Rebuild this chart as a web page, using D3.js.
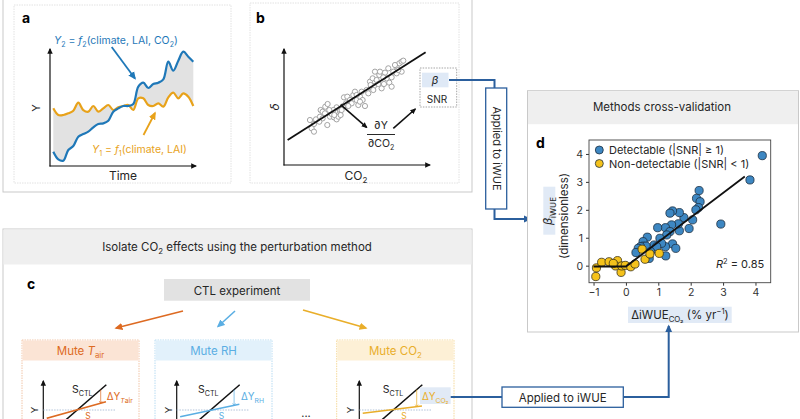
<!DOCTYPE html>
<html><head><meta charset="utf-8">
<script src="https://cdn.jsdelivr.net/npm/d3@7"></script>
<style>body{margin:0;background:#fff}svg{display:block;font-family:Inter,"Noto Sans",sans-serif}</style>
</head><body><svg id="c" width="800" height="419"></svg>
<script>
// ---------- DATA ----------
// panel a: schematic time series (time index 0..28)
const timeIndex = [0,1,2,3,4,5,6,7,8,9,10,11,12,13,14,15,16,17,18,19,20,21,22,23,24,25,26,27,28];
const yWithCO2 = [0.45,0.22,0.18,0.50,0.62,0.90,0.98,1.05,1.18,1.28,1.30,1.38,1.65,1.75,1.82,1.82,1.88,2.40,2.52,2.36,2.48,2.52,2.62,3.15,2.88,3.18,3.45,3.30,3.15];
const yNoCO2   = [1.75,1.55,1.55,1.60,1.68,1.92,1.70,1.65,1.82,1.65,1.75,1.85,1.70,1.78,1.82,1.85,1.70,2.05,2.05,1.85,1.82,1.90,1.80,2.08,2.22,2.05,2.20,2.10,1.82];
// panel b: schematic scatter (CO2 vs detrended Y)
const bCO2 = [8.0,9.2,8.5,9.2,9.8,11.0,11.2,11.8,12.6,13.3,13.2,14.0,14.5,15.2,15.5,16.0,16.5,17.0,17.2,18.0,18.8,18.2,19.2,20.0,21.0,21.5,22.0,22.5,23.0,23.8,24.5,25.0,25.5,26.0,26.5,26.8,27.2,27.5,28.0,28.8,29.5,30.2,31.0,31.8,32.5,29.0,30.5,31.5,33.0,34.0,34.8,35.5,36.0,34.0,32.5,35.5,27.0,23.5,20.5,19.5,17.5,16.0,15.0,11.8,10.8,12.5,13.8,15.3,22.0,28.5,30.0,33.5,34.5,23.0,26.2];
const bDelta = [14.0,12.8,11.5,10.5,14.2,15.0,17.0,16.5,18.0,18.8,12.5,15.0,15.8,14.8,16.5,14.2,15.0,17.0,15.5,18.2,19.0,20.8,21.0,20.0,21.5,22.5,20.0,18.5,21.0,20.0,18.2,23.0,22.0,25.5,23.8,26.5,24.2,28.5,26.0,27.5,23.5,24.8,26.5,25.2,24.0,28.5,28.2,29.5,28.5,30.0,31.0,31.5,31.8,28.0,26.8,28.5,23.0,22.5,19.0,18.2,17.0,17.8,17.0,14.5,13.5,16.0,17.0,15.5,21.5,24.8,26.8,30.5,29.0,19.5,24.5];
const bFitCO2 = [1.3, 42.7];
const bFitDelta = [8.0, 34.3];
// panel c: schematic sensitivity lines (x units, y units relative to reference level)
const ctlLineX = [3.0, 9.0];
const ctlLineY = [-1.6, 3.6];
const muteTairY = [-1.19, 1.19];
const muteRHY = [-0.96, 0.81];
const muteCO2Y = [-0.47, 0.57];
const muteLineX = [0.49, 8.95];
// panel d: beta_iWUE vs dIWUE_CO2
const detX = [4.21,3.83,2.93,2.26,2.18,2.29,2.24,2.16,2.06,1.95,1.79,1.65,1.44,1.36,1.65,1.62,1.41,1.22,0.98,1.36,1.26,1.44,1.54,1.22,1.23,1.05,1.10,0.87,0.95,0.66,0.53,0.53,0.62,0.45,0.38,0.76,0.31,0.72];
const detY = [3.94,3.07,1.49,2.69,2.41,2.29,2.08,2.00,1.64,1.33,1.72,1.90,1.96,1.88,1.25,1.50,1.46,1.36,1.36,1.22,1.10,0.78,0.62,0.68,0.35,0.98,0.80,0.74,0.68,1.02,0.86,0.70,0.70,0.68,0.62,0.50,0.47,0.26];
const nonX = [-0.93,-0.91,-0.75,-0.52,-0.26,-0.32,-0.15,-0.13,-0.02,0.15,0.28,0.50,0.59,0.74,1.03,-0.39];
const nonY = [-0.39,-0.08,0.12,0.14,0.18,-0.01,-0.24,-0.01,0.01,-0.04,0.06,0.59,0.23,0.42,0.44,0.08];
const fitX = [-1.0, 0.0, 3.67];
const fitY = [-0.03, -0.03, 3.19];
const dXTicks = [-1,0,1,2,3,4];
const dYTicks = [0,1,2,3,4];
const legendLabels = ["Detectable (|SNR| \u2265 1)", "Non-detectable (|SNR| < 1)"];

// ---------- HELPERS ----------
const svg = d3.select("#c");
const defs = svg.append("defs");
function marker(id, color, size){
  defs.append("marker").attr("id",id).attr("viewBox","0 0 10 10").attr("refX",8).attr("refY",5)
    .attr("markerWidth",size).attr("markerHeight",size).attr("orient","auto-start-reverse")
    .attr("markerUnits","userSpaceOnUse")
    .append("path").attr("d","M0,0.5L10,5L0,9.5z").attr("fill",color);
}
const C = {blue:"#1f78b8", orange:"#e8a21a", conn:"#2b5f9d", tair:"#dd6a22", rh:"#5aaee3", co2:"#e9ae2a", text:"#262626"};
marker("mk",  "#111", 6);
marker("mkBlue", C.blue, 8);
marker("mkOr", C.orange, 8);
marker("mkConn", C.conn, 8);
marker("mkTair", C.tair, 8);
marker("mkRH", C.rh, 8);
marker("mkCO2", C.co2, 8);

function rich(g, x, y, parts, o={}){
  const fs = o.size || 11;
  const t = g.append("text").attr("x",x).attr("y",y).attr("font-size",fs)
    .attr("fill",o.fill||C.text).attr("text-anchor",o.anchor||"start");
  if(o.transform) t.attr("transform",o.transform);
  if(o.weight) t.attr("font-weight",o.weight);
  let cur = 0;
  parts.forEach(p=>{
    if(typeof p==="string") p={t:p};
    const target = p.sub ? fs*0.3 : p.sup ? -fs*0.4 : 0;
    const ts = t.append("tspan").text(p.t).attr("dy", target-cur);
    cur = target;
    if(p.sub||p.sup) ts.attr("font-size", fs*0.68);
    if(p.i) ts.attr("font-style","italic");
  });
  return t;
}
function line(g, pts, color, w, mk){
  const p = g.append("path").attr("d", d3.line()(pts)).attr("fill","none").attr("stroke",color).attr("stroke-width",w);
  if(mk) p.attr("marker-end","url(#"+mk+")");
  return p;
}

// ---------- FRAMES ----------
svg.append("rect").attr("x",3).attr("y",-2).attr("width",469).attr("height",194).attr("fill","none").attr("stroke","#c9c9c9");
svg.append("rect").attr("x",14).attr("y",5).attr("width",217).attr("height",178).attr("fill","none").attr("stroke","#e2e2e2").attr("stroke-dasharray","1.5,1");
svg.append("rect").attr("x",250).attr("y",3).attr("width",209).attr("height",180).attr("fill","none").attr("stroke","#e2e2e2").attr("stroke-dasharray","1.5,1");

// ---------- PANEL A ----------
const gA = svg.append("g");
gA.append("text").attr("x",22).attr("y",23).attr("font-size",14).attr("font-weight",700).text("a");
const ax = d3.scaleLinear().domain([0,28]).range([53.3,193.3]);
const ay = d3.scaleLinear().domain([0,3.5]).range([166.7,50]);
gA.append("path").datum(timeIndex)
  .attr("d", d3.area().x(i=>ax(i)).y0(i=>ay(yNoCO2[i])).y1(i=>ay(yWithCO2[i])).curve(d3.curveCatmullRom))
  .attr("fill","#e2e2e2");
gA.append("path").datum(timeIndex).attr("d", d3.line().x(i=>ax(i)).y(i=>ay(yNoCO2[i])).curve(d3.curveCatmullRom))
  .attr("fill","none").attr("stroke",C.orange).attr("stroke-width",2.2);
gA.append("path").datum(timeIndex).attr("d", d3.line().x(i=>ax(i)).y(i=>ay(yWithCO2[i])).curve(d3.curveCatmullRom))
  .attr("fill","none").attr("stroke",C.blue).attr("stroke-width",2.2);
line(gA, [[50,166.5],[50,49]], "#111", 1.2, "mk");
line(gA, [[49.5,166],[196,166]], "#111", 1.2, "mk");
gA.append("text").attr("x",123).attr("y",180).attr("text-anchor","middle").attr("font-size",12).attr("fill",C.text).text("Time");
gA.append("text").attr("transform","translate(40,108) rotate(-90)").attr("text-anchor","middle").attr("font-size",11).attr("fill",C.text).text("Y");
rich(gA, 54, 44, [{t:"Y",i:true},{t:"2",sub:true}," = ",{t:"f",i:true},{t:"2",sub:true},"(climate, LAI, CO",{t:"2",sub:true},")"], {fill:C.blue, size:10.5});
rich(gA, 92, 153, [{t:"Y",i:true},{t:"1",sub:true}," = ",{t:"f",i:true},{t:"1",sub:true},"(climate, LAI)"], {fill:C.orange, size:10.5});
line(gA, [[111.7,47],[135,78.5]], C.blue, 1.8, "mkBlue");
line(gA, [[143.5,135],[155,113]], C.orange, 1.8, "mkOr");

// ---------- PANEL B ----------
const gB = svg.append("g");
gB.append("text").attr("x",256).attr("y",23).attr("font-size",14).attr("font-weight",700).text("b");
const bx = d3.scaleLinear().domain([0,43.5]).range([283.3,428.3]);
const by = d3.scaleLinear().domain([0,35]).range([166.7,50]);
line(gB, [[284,165.5],[284,49]], "#111", 1.2, "mk");
line(gB, [[283.5,165],[430,165]], "#111", 1.2, "mk");
gB.selectAll("circle").data(bCO2).join("circle")
  .attr("cx",(d)=>bx(d)).attr("cy",(d,i)=>by(bDelta[i])).attr("r",2.6)
  .attr("fill","#fff").attr("stroke","#9a9a9a").attr("stroke-width",0.9);
line(gB, bFitCO2.map((d,i)=>[bx(d),by(bFitDelta[i])]), "#111", 1.8);
line(gB, [[bx(17.2),by(18.6)],[bx(25),by(11.8)]], "#111", 1.6, "mk");
line(gB, [[bx(33),by(11.5)],[bx(39.6),by(17.3)]], "#111", 1.6, "mk");
gB.append("text").attr("x",356).attr("y",180).attr("text-anchor","middle").attr("font-size",12).attr("fill",C.text)
  .call(t=>{t.append("tspan").text("CO");t.append("tspan").text("2").attr("font-size",8).attr("dy",3);});
gB.append("text").attr("transform","translate(279,107) rotate(-90)").attr("text-anchor","middle").attr("font-size",12).attr("font-style","italic").attr("fill",C.text).text("\u03B4");
rich(gB, 381, 129, [{t:"\u2202Y",i:false}], {anchor:"middle", size:10.5});
line(gB, [[367,134.5],[395,134.5]], "#111", 0.9);
rich(gB, 381, 147, ["\u2202CO",{t:"2",sub:true}], {anchor:"middle", size:10.5});
gB.append("rect").attr("x",420).attr("y",68).attr("width",36.7).attr("height",39).attr("fill","#fff").attr("stroke","#a5a5a5").attr("stroke-dasharray","1.5,1.2");
gB.append("rect").attr("x",422).attr("y",72.7).attr("width",26.5).attr("height",14.6).attr("fill","#dfe9f6");
gB.append("text").attr("x",435).attr("y",84).attr("text-anchor","middle").attr("font-size",11).attr("font-style","italic").attr("fill",C.text).text("\u03B2");
gB.append("text").attr("x",437).attr("y",103).attr("text-anchor","middle").attr("font-size",10).attr("fill",C.text).text("SNR");

// connectors b -> d
line(svg, [[449,80],[494.5,80],[494.5,88]], C.conn, 2);
svg.append("rect").attr("x",485.7).attr("y",88).attr("width",21).attr("height",121).attr("fill","#fff").attr("stroke",C.conn).attr("stroke-width",1.3);
svg.append("text").attr("transform","translate(492.5,148.5) rotate(90)").attr("text-anchor","middle").attr("font-size",11).attr("fill",C.text).text("Applied to iWUE");
line(svg, [[494.5,209],[494.5,219],[530,219]], C.conn, 2, "mkConn");

// ---------- PANEL D ----------
const gD = svg.append("g");
gD.append("rect").attr("x",527.5).attr("y",90.7).attr("width",271).attr("height",241.3).attr("fill","#fff").attr("stroke","#c9c9c9");
gD.append("rect").attr("x",528).attr("y",91.2).attr("width",270).attr("height",33).attr("fill","#efefef");
gD.append("text").attr("x",662).attr("y",111).attr("text-anchor","middle").attr("font-size",11.5).attr("fill",C.text).text("Methods cross-validation");
gD.append("text").attr("x",536).attr("y",148).attr("font-size",14).attr("font-weight",700).text("d");
const dx = d3.scaleLinear().domain([-1.14,4.47]).range([589,770.7]);
const dy = d3.scaleLinear().domain([-0.61,4.5]).range([282.7,140]);
const styleAxis = g=>{g.select(".domain").remove(); g.selectAll("text").attr("font-size",10.5).attr("fill","#333").attr("font-family","Inter,'Noto Sans',sans-serif"); g.selectAll("line").attr("stroke","#333");};
gD.append("g").attr("transform","translate(0,282.7)")
  .call(d3.axisBottom(dx).tickValues(dXTicks).tickFormat(d3.format("d")).tickSize(3).tickPadding(3))
  .call(styleAxis);
gD.append("g").attr("transform","translate(589,0)")
  .call(d3.axisLeft(dy).tickValues(dYTicks).tickFormat(d3.format("d")).tickSize(3).tickPadding(3))
  .call(styleAxis);
gD.append("rect").attr("x",589).attr("y",140).attr("width",181.7).attr("height",142.7).attr("fill","none").attr("stroke","#444").attr("stroke-width",0.9);
gD.append("g").selectAll("circle").data(detX).join("circle")
  .attr("cx",d=>dx(d)).attr("cy",(d,i)=>dy(detY[i])).attr("r",4.1)
  .attr("fill","#3d87c2").attr("stroke","#1d2e40").attr("stroke-width",0.8);
gD.append("g").selectAll("circle").data(nonX).join("circle")
  .attr("cx",d=>dx(d)).attr("cy",(d,i)=>dy(nonY[i])).attr("r",4.1)
  .attr("fill","#f5c21b").attr("stroke","#3b3418").attr("stroke-width",0.8);
line(gD, fitX.map((d,i)=>[dx(d),dy(fitY[i])]), "#111", 1.8);
// legend
[["#3d87c2",150],["#f5c21b",163.5]].forEach((c,i)=>{
  gD.append("circle").attr("cx",599.3).attr("cy",c[1]).attr("r",4).attr("fill",c[0]).attr("stroke","#1d2e40").attr("stroke-width",0.8);
  gD.append("text").attr("x",609).attr("y",c[1]+4).attr("font-size",11).attr("fill",C.text).text(legendLabels[i]);
});
rich(gD, 716, 268, [{t:"R",i:true},{t:"2",sup:true},{t:" = 0.85"}], {size:11});
// axis labels
gD.append("rect").attr("x",543.3).attr("y",186.7).attr("width",12).attr("height",48).attr("fill","#e1eaf6");
rich(gD, 0, 0, [{t:"\u03B2",i:true},{t:"iWUE",sub:true}], {size:12, anchor:"middle", transform:"translate(552,211) rotate(-90)"});
gD.append("text").attr("transform","translate(567.5,216) rotate(-90)").attr("text-anchor","middle").attr("font-size",11.5).attr("fill",C.text).text("(dimensionless)");
gD.append("rect").attr("x",628).attr("y",306.7).attr("width",103.7).attr("height",16.3).attr("fill","#e1eaf6");
rich(gD, 680, 318.5, ["\u0394iWUE",{t:"CO\u2082",sub:true}," (% yr",{t:"\u22121",sup:true},")"], {size:11.5, anchor:"middle"});

// ---------- PANEL C ----------
const gC = svg.append("g");
gC.append("rect").attr("x",3).attr("y",229).attr("width",469).attr("height",200).attr("fill","#fff").attr("stroke","#c9c9c9");
gC.append("rect").attr("x",3.5).attr("y",229.5).attr("width",468).attr("height",35).attr("fill","#efefef");
rich(gC, 237, 251, ["Isolate CO",{t:"2",sub:true}," effects using the perturbation method"], {size:11.5, anchor:"middle"});
gC.append("text").attr("x",27).attr("y",289).attr("font-size",14).attr("font-weight",700).text("c");
gC.append("rect").attr("x",164).attr("y",279).attr("width",146).attr("height",21.7).attr("fill","#e2e2e2");
gC.append("text").attr("x",237).attr("y",294.5).attr("text-anchor","middle").attr("font-size",11.5).attr("fill",C.text).text("CTL experiment");
line(gC, [[183,311],[116,328]], C.tair, 1.6, "mkTair");
line(gC, [[235,311],[218,326.5]], C.rh, 1.6, "mkRH");
line(gC, [[303,310],[366,328]], C.co2, 1.6, "mkCO2");

const subs = [
  {x:22, w:117, head:"#fbe4d5", border:"#f1c6a9", col:C.tair, title:[ "Mute ",{t:"T",i:true},{t:"air",sub:true}], axisX:43.3, my:muteTairY, sLab:72, dLab:[{t:"\u0394Y",i:false},{t:"T",sub:true,i:true},{t:"air",sub:true}], dX:106.7},
  {x:155, w:117, head:"#e2f1fb", border:"#b9dcf3", col:C.rh, title:["Mute RH"], axisX:176.7, my:muteRHY, sLab:198, dLab:["\u0394Y",{t:"RH",sub:true}], dX:241},
  {x:336.7, w:117.3, head:"#fdf0d6", border:"#f5d99b", col:C.co2, title:["Mute CO",{t:"2",sub:true}], axisX:359.3, my:muteCO2Y, sLab:382.7, dLab:["\u0394Y",{t:"CO\u2082",sub:true}], dX:422, box:true}
];
subs.forEach(s=>{
  const g = gC.append("g");
  g.append("rect").attr("x",s.x).attr("y",340).attr("width",s.w).attr("height",90).attr("fill","#fff").attr("stroke",s.border).attr("stroke-dasharray","1.5,1");
  g.append("rect").attr("x",s.x+0.5).attr("y",340.5).attr("width",s.w-1).attr("height",20).attr("fill",s.head);
  rich(g, s.x+s.w/2, 355, s.title, {size:11.5, anchor:"middle", fill:s.col});
  const sx = d3.scaleLinear().domain([0,10]).range([s.axisX, s.axisX+70]);
  const sy = d3.scaleLinear().domain([0,5]).range([410,375]);
  line(g, [[s.axisX,425],[s.axisX,381]], "#111", 1.2, "mk");
  g.append("text").attr("transform",`translate(${s.axisX-5},410) rotate(-90)`).attr("text-anchor","middle").attr("font-size",9.5).attr("fill",C.text).text("Y");
  line(g, [[s.axisX,410],[s.axisX+72,410]], "#9db3cf", 0.8).attr("stroke-dasharray","1.5,1.2");
  line(g, ctlLineX.map((d,i)=>[sx(d),sy(ctlLineY[i])]), "#111", 1.5);
  line(g, muteLineX.map((d,i)=>[sx(d),sy(s.my[i])]), s.col, 1.6);
  const ux = 8.2;
  const yTop = ctlLineY[0] + (ux-ctlLineX[0])*(ctlLineY[1]-ctlLineY[0])/(ctlLineX[1]-ctlLineX[0]);
  const yBot = s.my[0] + (ux-muteLineX[0])*(s.my[1]-s.my[0])/(muteLineX[1]-muteLineX[0]);
  line(g, [[sx(ux),sy(yTop)],[sx(ux),sy(yBot)]], s.col, 0.7);
  line(g, [[sx(ux)-1.5,sy(yBot)-2],[sx(ux),sy(yBot)],[sx(ux)+1.5,sy(yBot)-2]], s.col, 0.7);
  rich(g, s.sLab, 393, ["S",{t:"CTL",sub:true}], {size:10.5});
  if(s.box) g.append("rect").attr("x",420).attr("y",387.3).attr("width",30.7).attr("height",16.7).attr("fill","#e1eaf6");
  rich(g, s.dX, 400, s.dLab, {size:10, fill:s.col});
  rich(g, sx(6.0), 418.5, ["S"], {size:8.5, fill:s.col});
});
gC.append("text").attr("x",306).attr("y",417).attr("text-anchor","middle").attr("font-size",11).attr("fill",C.text).text("...");

// connector c -> d
line(svg, [[450.7,397],[502,397]], C.conn, 2);
svg.append("rect").attr("x",502).attr("y",387).attr("width",121.3).attr("height",20.3).attr("fill","#fff").attr("stroke",C.conn).attr("stroke-width",1.3);
svg.append("text").attr("x",562.7).attr("y",401.5).attr("text-anchor","middle").attr("font-size",11.5).attr("fill",C.text).text("Applied to iWUE");
line(svg, [[623.3,397],[668.7,397],[668.7,326]], C.conn, 2, "mkConn");
</script></body></html>
